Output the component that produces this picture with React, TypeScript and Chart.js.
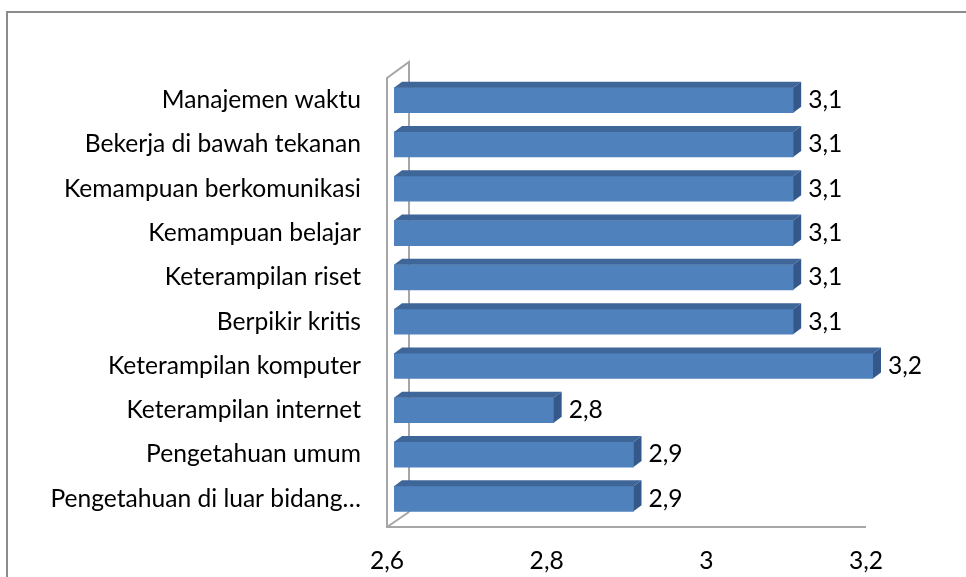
import React, { useEffect, useRef } from 'react';
import { Chart, registerables } from 'chart.js';

Chart.register(...registerables);

const categories: string[] = [
  'Manajemen waktu',
  'Bekerja di bawah tekanan',
  'Kemampuan berkomunikasi',
  'Kemampuan belajar',
  'Keterampilan riset',
  'Berpikir kritis',
  'Keterampilan komputer',
  'Keterampilan internet',
  'Pengetahuan umum',
  'Pengetahuan di luar bidang…',
];

const values: number[] = [3.1, 3.1, 3.1, 3.1, 3.1, 3.1, 3.2, 2.8, 2.9, 2.9];

const xTicks: number[] = [2.6, 2.8, 3, 3.2];

const fmt = (v: number) => String(Math.round(v * 10) / 10).replace('.', ',');

const FONT = 'Lato';

function fitSize(): number {
  const ctx = document.createElement('canvas').getContext('2d');
  if (!ctx) return 24;
  ctx.font = `100px ${FONT}`;
  const w = ctx.measureText('Manajemen waktu').width;
  if (!w) return 24;
  return Math.round(((100 * 199) / w) * 10) / 10;
}

const BAR_DX = 8;
const BAR_DY = 6;
const WALL_DX = 22;
const WALL_DY = 15;
const WALL_SHIFT = 7;

export default function App() {
  const ref = useRef<HTMLCanvasElement | null>(null);

  useEffect(() => {
    if (!ref.current) return;
    const size = fitSize();
    const font = { family: FONT, size };

    const threeD = {
      id: 'threeD',
      beforeDatasetsDraw(chart: any) {
        const { ctx, chartArea, scales } = chart;
        const xs = scales.x;
        const x0 = xs.getPixelForValue(xTicks[0]) - WALL_SHIFT;
        const xEnd = xs.getPixelForValue(xTicks[xTicks.length - 1]) - WALL_SHIFT;
        const floorY = chartArea.bottom + 6;
        const topY = chartArea.top;
        ctx.save();
        ctx.strokeStyle = '#a6a6a6';
        ctx.lineWidth = 2;
        ctx.beginPath();
        ctx.moveTo(x0 + WALL_DX, floorY - WALL_DY);
        ctx.lineTo(x0 + WALL_DX, topY - 16);
        ctx.lineTo(x0, topY);
        ctx.lineTo(x0, floorY);
        ctx.lineTo(xEnd, floorY);
        ctx.moveTo(x0, floorY);
        ctx.lineTo(x0 + WALL_DX, floorY - WALL_DY);
        ctx.stroke();
        // outer frame
        ctx.strokeStyle = '#8c8c8c';
        ctx.lineWidth = 2;
        ctx.beginPath();
        ctx.moveTo(7, chart.height);
        ctx.lineTo(7, 12);
        ctx.lineTo(chart.width, 12);
        ctx.stroke();
        ctx.restore();
      },
      afterDatasetsDraw(chart: any) {
        const { ctx, chartArea } = chart;
        const meta = chart.getDatasetMeta(0);
        ctx.save();
        meta.data.forEach((bar: any, i: number) => {
          const p = bar.getProps(['x', 'y', 'base', 'height'], true);
          const x1 = p.x;
          const x0 = Math.max(p.base, chartArea.left);
          const yT = p.y - p.height / 2;
          const yB = p.y + p.height / 2;
          // top face
          ctx.fillStyle = '#3e6699';
          ctx.beginPath();
          ctx.moveTo(x0, yT);
          ctx.lineTo(x1, yT);
          ctx.lineTo(x1 + BAR_DX, yT - BAR_DY);
          ctx.lineTo(x0 + BAR_DX, yT - BAR_DY);
          ctx.closePath();
          ctx.fill();
          // side face
          ctx.fillStyle = '#34588a';
          ctx.beginPath();
          ctx.moveTo(x1, yT);
          ctx.lineTo(x1 + BAR_DX, yT - BAR_DY);
          ctx.lineTo(x1 + BAR_DX, yB - BAR_DY);
          ctx.lineTo(x1, yB);
          ctx.closePath();
          ctx.fill();
          // value label
          ctx.fillStyle = '#000';
          ctx.font = `${size}px ${FONT}`;
          ctx.textAlign = 'left';
          ctx.textBaseline = 'middle';
          ctx.fillText(fmt(values[i]), x1 + BAR_DX + 7, p.y);
        });
        ctx.restore();
      },
    };

    const chart = new Chart(ref.current, {
      type: 'bar',
      data: {
        labels: categories,
        datasets: [
          {
            data: values,
            base: xTicks[0],
            backgroundColor: '#4f81bd',
            borderWidth: 0,
            barThickness: 25,
          } as any,
        ],
      },
      options: {
        indexAxis: 'y',
        animation: false,
        responsive: false,
        layout: { padding: { left: 0, right: 93, top: 78, bottom: 0 } },
        plugins: { legend: { display: false }, tooltip: { enabled: false } },
        scales: {
          x: {
            min: xTicks[0],
            max: xTicks[xTicks.length - 1],
            afterBuildTicks: (s: any) => {
              s.ticks = xTicks.map((v) => ({ value: v }));
            },
            afterFit: (s: any) => {
              s.height = 56;
            },
            grid: { display: false, drawTicks: false },
            border: { display: false },
            ticks: {
              labelOffset: -WALL_SHIFT,
              padding: 25,
              color: '#000',
              font,
              maxRotation: 0,
              autoSkip: false,
              callback: (v: any) => fmt(Number(v)),
            },
          },
          y: {
            afterFit: (s: any) => {
              s.width = 394;
            },
            grid: { display: false, drawTicks: false },
            border: { display: false },
            ticks: { padding: 33, color: '#000', font, autoSkip: false },
          },
        },
      } as any,
      plugins: [threeD],
    });
    return () => chart.destroy();
  }, []);

  return (
    <div style={{ position: 'absolute', left: 0, top: 0, width: 966, height: 577, background: '#fff' }}>
      <canvas ref={ref} width={966} height={577} style={{ display: 'block' }} />
    </div>
  );
}
